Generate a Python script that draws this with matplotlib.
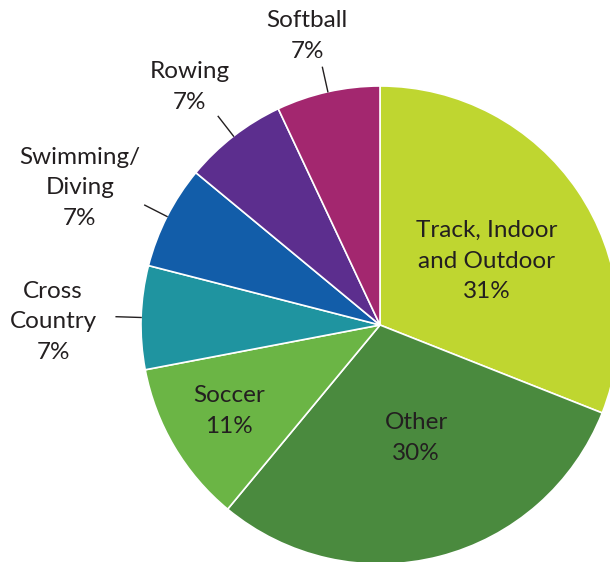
import numpy as np
import matplotlib.pyplot as plt

# Share of athletes by sport
sports = ['Track, Indoor\nand Outdoor', 'Other', 'Soccer', 'Cross\nCountry',
          'Swimming/\nDiving', 'Rowing', 'Softball']
shares = [31, 30, 11, 7, 7, 7, 7]
colors = ['#BFD630', '#4A8A3E', '#6BB545', '#1F94A0', '#125DA9', '#5C2E8E', '#A3276F']

W, H = 610, 562
cx, cy, r = 380, H - 325, 239
text_color = '#231F20'
plt.rcParams['font.family'] = ['Lato', 'DejaVu Sans']

fig = plt.figure(figsize=(W / 100, H / 100), dpi=100)
ax = fig.add_axes([0, 0, 1, 1])

wedges, _ = ax.pie(shares, colors=colors, startangle=90, counterclock=False,
                   center=(cx, cy), radius=r, frame=True,
                   wedgeprops=dict(edgecolor='white', linewidth=1.2))
ax.set_xlim(0, W)
ax.set_ylim(0, H)
ax.set_aspect('equal')
ax.axis('off')

# inside labels: (x, y) in pixels from top-left
inside = {0: (487, 261), 1: (416, 438), 2: (229, 411)}
# outside labels with leader lines
outside = {3: (53, 322), 4: (80, 188), 5: (190, 87), 6: (307, 36)}

for i, (name, val) in enumerate(zip(sports, shares)):
    label = f'{name}\n{val}%'
    x, y = inside.get(i, outside.get(i))
    ax.text(x, H - y, label, ha='center', va='center', fontsize=17.5,
            color=text_color, linespacing=1.55)
    if i in outside:
        w = wedges[i]
        mid = np.deg2rad((w.theta1 + w.theta2) / 2)
        ax.plot([cx + r * np.cos(mid), cx + 264 * np.cos(mid)],
                [cy + r * np.sin(mid), cy + 264 * np.sin(mid)],
                color=text_color, linewidth=1)

fig.savefig('out.png', dpi=100)
